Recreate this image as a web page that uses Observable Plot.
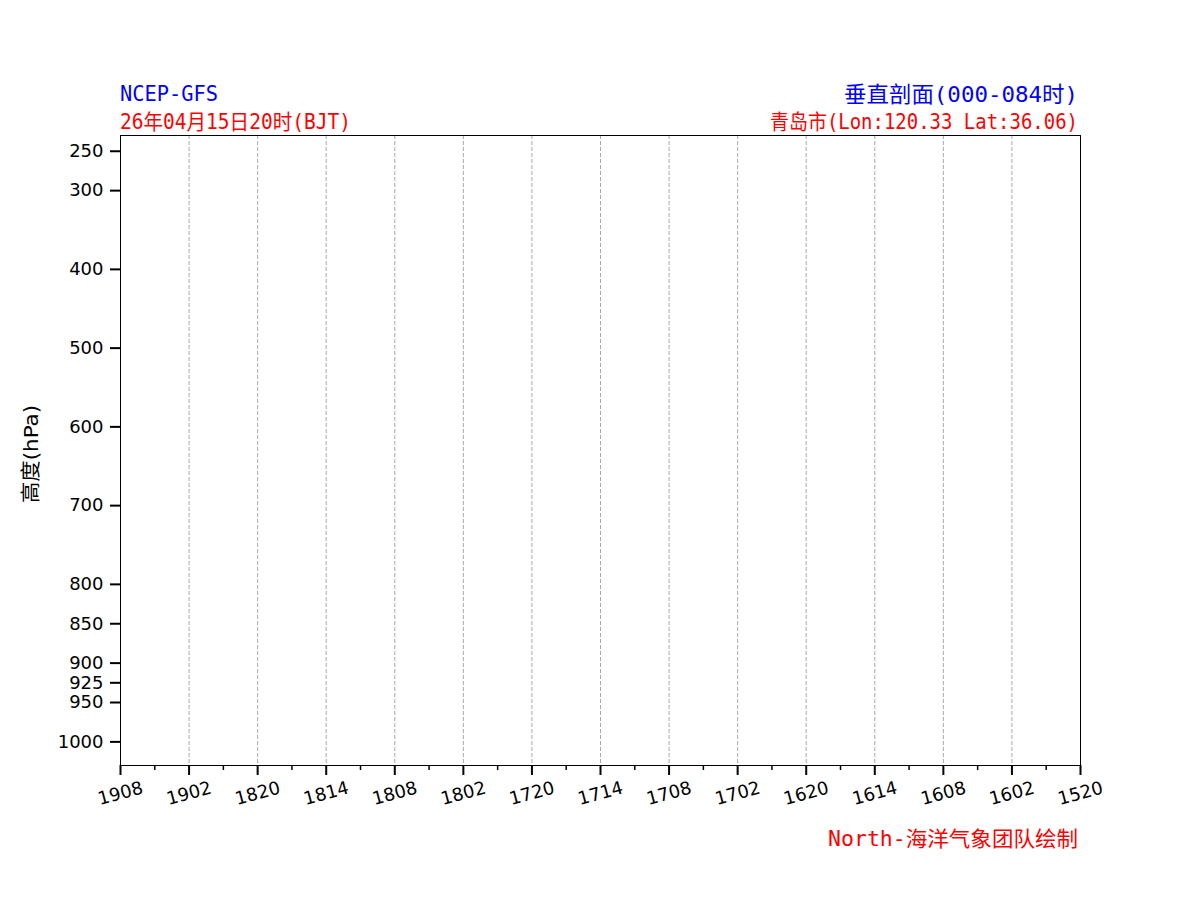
<!DOCTYPE html>
<html><head><meta charset="utf-8">
<script src="https://cdn.jsdelivr.net/npm/d3@7"></script>
<script src="https://cdn.jsdelivr.net/npm/@observablehq/plot@0.6"></script>
<style>body{margin:0;background:#fff}</style>
</head><body><div id="chart"></div>
<script>
// Pressure levels (hPa) on the y axis
const pressureLevels = [250, 300, 400, 500, 600, 700, 800, 850, 900, 925, 950, 1000];
// Forecast hours: labelled (every 6 h) and minor (3 h offsets)
const majorHours = [0, 6, 12, 18, 24, 30, 36, 42, 48, 54, 60, 66, 72, 78, 84];
const minorHours = [3, 9, 15, 21, 27, 33, 39, 45, 51, 57, 63, 69, 75, 81];
// Tick labels (DDHH, BJT) for majorHours
const timeLabels = ["1520", "1602", "1608", "1614", "1620", "1702", "1708", "1714", "1720",
                    "1802", "1808", "1814", "1820", "1902", "1908"];
const titleLeft = "NCEP-GFS";
const subtitleLeft = "26年04月15日20时(BJT)";
const titleRight = "垂直剖面(000-084时)";
const subtitleRight = "青岛市(Lon:120.33 Lat:36.06)";
const caption = "North-海洋气象团队绘制";
const yLabel = "高度(hPa)";

const plot = Plot.plot({
  width: 1200, height: 900,
  marginTop: 135, marginBottom: 135, marginLeft: 120, marginRight: 120,
  style: {fontFamily: "'DejaVu Sans', sans-serif", fontSize: "18px", color: "black", background: "white"},
  x: {domain: [84, 0]},
  y: {domain: [230, 1030], reverse: true},
  marks: [
    Plot.ruleX(majorHours, {stroke: "#a8a8a8", strokeWidth: 1, strokeDasharray: "4,2"}),
    Plot.frame({stroke: "black", strokeWidth: 1}),
    Plot.axisY(pressureLevels, {anchor: "left", tickSize: 10, tickPadding: 7, strokeWidth: 2, label: null, fontSize: 18, tickFormat: d => String(d)}),
    Plot.axisX(majorHours, {anchor: "bottom", tickSize: 10, strokeWidth: 2, tickFormat: () => "", label: null}),
    Plot.axisX(minorHours, {anchor: "bottom", tickSize: 5, strokeWidth: 1.5, tickFormat: () => "", label: null}),
    Plot.text(majorHours, {x: d => d, text: (d, i) => timeLabels[i], frameAnchor: "bottom", dy: 28,
      rotate: -15, fontSize: 18, textAnchor: "middle", lineAnchor: "middle", fill: "black"})
  ]
});
document.getElementById("chart").appendChild(plot);

const svg = d3.select(plot);
const titleFont = "'DejaVu Sans Mono','Noto Sans CJK SC',monospace";
function addText(str, x, y, anchor, color, size, len) {
  svg.append("text")
    .attr("x", x).attr("y", y)
    .attr("text-anchor", anchor)
    .attr("fill", color)
    .attr("font-size", size)
    .attr("font-family", titleFont)
    .attr("textLength", len)
    .attr("lengthAdjust", "spacingAndGlyphs")
    .text(str);
}
addText(titleLeft, 120, 101, "start", "blue", 22, 98);
addText(subtitleLeft, 120, 129, "start", "red", 21, 231);
addText(titleRight, 1078, 102, "end", "blue", 22, 234);
addText(subtitleRight, 1078, 129, "end", "red", 21, 308);
addText(caption, 1078, 846, "end", "red", 21, 250);
svg.append("text")
  .attr("transform", "translate(31,454) rotate(-90)")
  .attr("text-anchor", "middle")
  .attr("dominant-baseline", "central")
  .attr("fill", "black")
  .attr("font-size", 20)
  .attr("font-family", "'DejaVu Sans','Noto Sans CJK SC',sans-serif")
  .attr("textLength", 98)
  .attr("lengthAdjust", "spacingAndGlyphs")
  .text(yLabel);
</script>
</body></html>
